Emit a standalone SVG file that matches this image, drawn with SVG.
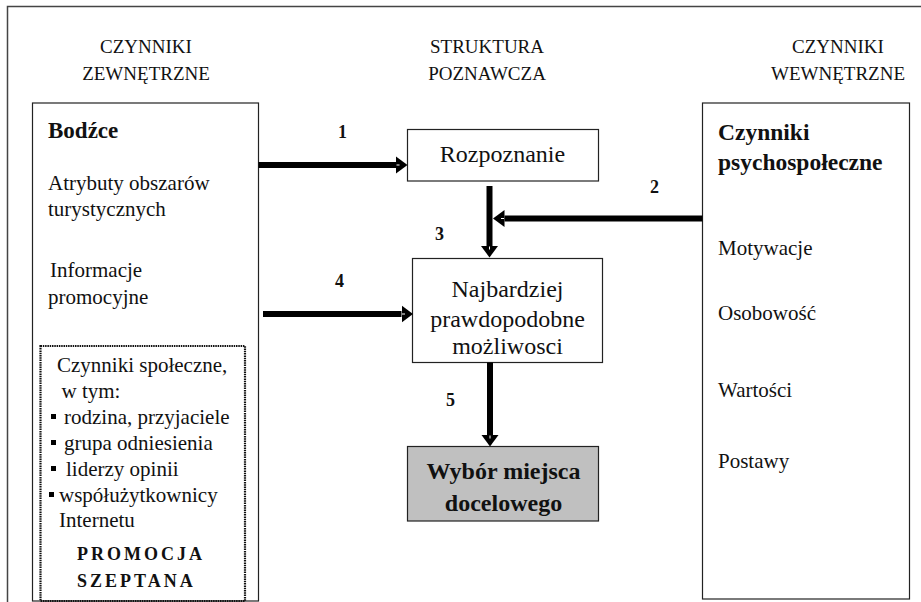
<svg xmlns="http://www.w3.org/2000/svg" width="921" height="602" viewBox="0 0 921 602">
<style>
.t{font-family:"Liberation Serif","Times New Roman",serif;fill:#111;}
.h{font-size:19px;text-anchor:middle;}
.r{font-size:21px;}
.c{font-size:24px;text-anchor:middle;}
.b{font-weight:bold;}
.n{font-size:18px;font-weight:bold;}
.box{fill:#fff;stroke:#222;stroke-width:1.2;}
.conn{stroke:#000;stroke-width:6;fill:none;marker-end:url(#ah);}
</style>
<defs>
<marker id="ah" viewBox="0 0 12 18" refX="0" refY="9" markerWidth="12" markerHeight="18" markerUnits="userSpaceOnUse" orient="auto">
<path d="M0,0.5 L11.5,9 L0,17.5 Z" fill="#000"/>
<path d="M0.5,9 L3.5,9" stroke="#fff" stroke-width="1"/>
</marker>
</defs>
<rect width="921" height="602" fill="#fff"/>
<g id="frame">
<path d="M7.5,602 L7.5,6.5 L921,6.5" fill="none" stroke="#444" stroke-width="1.5"/>
</g>
<g id="headers">
<text class="t h" x="146" y="53">CZYNNIKI</text>
<text class="t h" x="146" y="80">ZEWNĘTRZNE</text>
<text class="t h" x="487" y="53">STRUKTURA</text>
<text class="t h" x="487" y="80">POZNAWCZA</text>
<text class="t h" x="838" y="53">CZYNNIKI</text>
<text class="t h" x="838" y="80">WEWNĘTRZNE</text>
</g>
<g id="bodzce">
<rect class="box" x="32.5" y="103" width="226" height="498"/>
<text class="t b" x="48" y="138" style="font-size:23px">Bodźce</text>
<text class="t r" x="48" y="190">Atrybuty obszarów</text>
<text class="t r" x="48" y="216">turystycznych</text>
<text class="t r" x="50" y="277">Informacje</text>
<text class="t r" x="48" y="304">promocyjne</text>
</g>
<g id="spoleczne">
<rect x="40.5" y="346" width="204.5" height="255" fill="none" stroke="#111" stroke-width="2.2" stroke-dasharray="1.5,0.8"/>
<text class="t r" x="57" y="372">Czynniki społeczne,</text>
<text class="t r" x="61.5" y="398">w tym:</text>
<rect x="51" y="414" width="5" height="5" fill="#000"/>
<text class="t r" x="64" y="424">rodzina, przyjaciele</text>
<rect x="51" y="440" width="5" height="5" fill="#000"/>
<text class="t r" x="64" y="450">grupa odniesienia</text>
<rect x="51" y="466" width="5" height="5" fill="#000"/>
<text class="t r" x="66" y="476">liderzy opinii</text>
<rect x="49" y="492" width="5" height="5" fill="#000"/>
<text class="t r" x="59" y="501.5">współużytkownicy</text>
<text class="t r" x="59" y="527">Internetu</text>
<text class="t b" x="77" y="560" style="font-size:18px;letter-spacing:3px">PROMOCJA</text>
<text class="t b" x="77" y="587" style="font-size:18px;letter-spacing:3px">SZEPTANA</text>
</g>
<g id="rozpoznanie">
<rect class="box" x="407.5" y="129.5" width="191" height="51.5"/>
<text class="t c" x="502.5" y="162">Rozpoznanie</text>
</g>
<g id="najbardziej">
<rect class="box" x="412.5" y="258.5" width="190" height="104"/>
<text class="t c" x="507.5" y="297">Najbardziej</text>
<text class="t c" x="507.5" y="327">prawdopodobne</text>
<text class="t c" x="507.5" y="353.5">możliwosci</text>
</g>
<g id="wybor">
<rect x="407.5" y="446.5" width="191" height="74.5" fill="#c0c0c0" stroke="#222" stroke-width="1.2"/>
<text class="t c b" x="503.5" y="478.5">Wybór miejsca</text>
<text class="t c b" x="503.5" y="511">docelowego</text>
</g>
<g id="psychospoleczne">
<rect class="box" x="702.5" y="103" width="207" height="496"/>
<text class="t b" x="718" y="140" style="font-size:23.5px">Czynniki</text>
<text class="t b" x="718" y="170" style="font-size:23.5px">psychospołeczne</text>
<text class="t r" x="718" y="255">Motywacje</text>
<text class="t r" x="718" y="320">Osobowość</text>
<text class="t r" x="718" y="397">Wartości</text>
<text class="t r" x="718" y="468">Postawy</text>
</g>
<g id="connectors">
<path class="conn" d="M258.5,165 L396,165"/>
<path class="conn" d="M702.5,218.5 L504.5,218.5"/>
<path class="conn" d="M489.5,186 L489.5,246"/>
<path class="conn" d="M263,314 L401.5,314"/>
<path class="conn" d="M490,362.5 L490,435"/>
<text class="t n" x="338" y="138">1</text>
<text class="t n" x="650" y="193">2</text>
<text class="t n" x="435" y="240">3</text>
<text class="t n" x="335" y="287">4</text>
<text class="t n" x="446" y="406">5</text>
</g>
</svg>
